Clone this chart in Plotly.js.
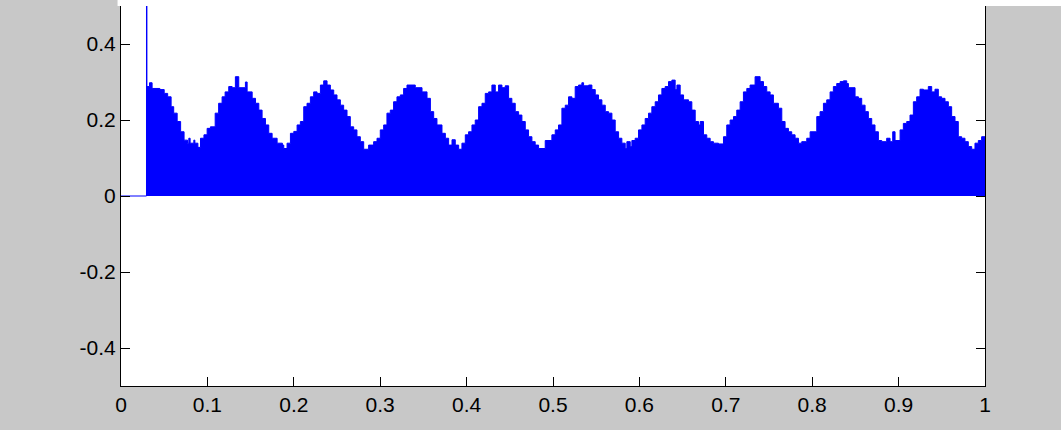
<!DOCTYPE html>
<html>
<head>
<meta charset="utf-8">
<script src="https://cdn.plot.ly/plotly-3.0.1.min.js"></script>
<style>
  html, body { margin: 0; padding: 0; background: #c8c8c8; }
  #plot { width: 1061px; height: 430px; }
</style>
</head>
<body>
<div id="plot"></div>
<script>
// Time axis (s): start of each held level of the sampled current envelope
const time = [
  0, 0.0295, 0.0295, 0.030, 0.033, 0.036, 0.045, 0.050, 0.054, 0.058,
  0.061, 0.065, 0.069, 0.073, 0.077, 0.0785, 0.080, 0.0843, 0.0855, 0.089,
  0.092, 0.096, 0.0997, 0.1035, 0.109, 0.113, 0.117, 0.1205, 0.1247, 0.1286,
  0.1324, 0.1363, 0.144, 0.146, 0.1518, 0.1557, 0.1595, 0.1633, 0.1672, 0.171,
  0.1749, 0.1807, 0.1868, 0.1884, 0.1922, 0.1961, 0.200, 0.2038, 0.2076, 0.2115,
  0.2153, 0.2192, 0.223, 0.2269, 0.2308, 0.2346, 0.2385, 0.2423, 0.2462, 0.250,
  0.2539, 0.2577, 0.2616, 0.2654, 0.2693, 0.2731, 0.277, 0.2809, 0.2866, 0.2924,
  0.2963, 0.3001, 0.304, 0.3078, 0.3117, 0.3155, 0.3194, 0.3233, 0.3271, 0.331,
  0.3406, 0.3484, 0.3542, 0.3581, 0.3619, 0.3657, 0.3715, 0.3754, 0.3792, 0.3831,
  0.3869, 0.3908, 0.3946, 0.3985, 0.4023, 0.4062, 0.410, 0.4139, 0.4178, 0.4216,
  0.4255, 0.4293, 0.4332, 0.437, 0.4409, 0.4447, 0.4486, 0.4524, 0.4563, 0.4602,
  0.464, 0.4679, 0.4717, 0.4756, 0.4794, 0.4833, 0.491, 0.4987, 0.5026, 0.5064,
  0.5103, 0.5142, 0.518, 0.5219, 0.5257, 0.5296, 0.5334, 0.5354, 0.5412, 0.545,
  0.5489, 0.5527, 0.5566, 0.5605, 0.5643, 0.5682, 0.572, 0.5759, 0.5797, 0.5836,
  0.5855, 0.5894, 0.5913, 0.5951, 0.599, 0.6029, 0.6067, 0.6106, 0.6144, 0.6183,
  0.6221, 0.626, 0.6298, 0.6337, 0.6376, 0.6414, 0.6434, 0.6472, 0.6511, 0.6569,
  0.6607, 0.6646, 0.6684, 0.6703, 0.6742, 0.678, 0.6819, 0.6857, 0.6915, 0.6973,
  0.7011, 0.705, 0.7089, 0.7127, 0.7166, 0.7204, 0.7243, 0.7281, 0.7339, 0.7397,
  0.7436, 0.7474, 0.7513, 0.7551, 0.7609, 0.7648, 0.7686, 0.7725, 0.7763, 0.7802,
  0.7841, 0.7879, 0.7937, 0.7976, 0.8053, 0.8091, 0.813, 0.8168, 0.8207, 0.8245,
  0.8284, 0.8323, 0.8361, 0.840, 0.8419, 0.8496, 0.8535, 0.8573, 0.8612, 0.865,
  0.8689, 0.8727, 0.8766, 0.8805, 0.8862, 0.8901, 0.8932, 0.8959, 0.9017, 0.9055,
  0.9094, 0.9132, 0.9171, 0.9209, 0.9248, 0.9287, 0.9344, 0.9383, 0.9421, 0.946,
  0.9498, 0.9537, 0.9576, 0.9614, 0.9653, 0.9691, 0.973, 0.9768, 0.9807, 0.9846,
  0.9884, 0.9923, 0.9961, 1.0
];

// Current envelope (A) held from each time above; the switch-on transient is the tall spike
const current = [
  0, 0, 0.62, 0.288, 0.298, 0.283, 0.280, 0.270, 0.261, 0.235,
  0.218, 0.196, 0.169, 0.147, 0.139, 0.152, 0.139, 0.147, 0.139, 0.128,
  0.152, 0.161, 0.178, 0.182, 0.218, 0.244, 0.261, 0.274, 0.288, 0.285,
  0.314, 0.285, 0.300, 0.274, 0.257, 0.244, 0.226, 0.204, 0.187, 0.165,
  0.152, 0.139, 0.134, 0.125, 0.139, 0.165, 0.170, 0.187, 0.196, 0.235,
  0.244, 0.261, 0.274, 0.270, 0.292, 0.303, 0.292, 0.279, 0.266, 0.253,
  0.239, 0.226, 0.209, 0.182, 0.174, 0.156, 0.143, 0.123, 0.134, 0.143,
  0.152, 0.174, 0.187, 0.218, 0.226, 0.248, 0.261, 0.266, 0.283, 0.292,
  0.285, 0.274, 0.257, 0.222, 0.204, 0.187, 0.165, 0.152, 0.134, 0.148,
  0.134, 0.123, 0.139, 0.161, 0.169, 0.187, 0.200, 0.235, 0.244, 0.270,
  0.274, 0.292, 0.274, 0.292, 0.285, 0.290, 0.257, 0.244, 0.222, 0.213,
  0.196, 0.174, 0.156, 0.143, 0.134, 0.125, 0.146, 0.161, 0.174, 0.187,
  0.231, 0.239, 0.261, 0.257, 0.288, 0.292, 0.298, 0.290, 0.292, 0.280,
  0.266, 0.253, 0.239, 0.222, 0.218, 0.200, 0.169, 0.152, 0.139, 0.125,
  0.143, 0.130, 0.146, 0.152, 0.174, 0.187, 0.204, 0.218, 0.235, 0.248,
  0.266, 0.283, 0.288, 0.301, 0.305, 0.280, 0.292, 0.266, 0.253, 0.248,
  0.226, 0.196, 0.187, 0.196, 0.161, 0.152, 0.143, 0.139, 0.137, 0.156,
  0.187, 0.200, 0.209, 0.226, 0.248, 0.274, 0.283, 0.292, 0.314, 0.301,
  0.288, 0.274, 0.266, 0.244, 0.231, 0.196, 0.178, 0.169, 0.161, 0.152,
  0.139, 0.143, 0.152, 0.169, 0.209, 0.222, 0.244, 0.253, 0.274, 0.288,
  0.296, 0.301, 0.303, 0.296, 0.285, 0.261, 0.257, 0.239, 0.222, 0.204,
  0.187, 0.169, 0.146, 0.143, 0.152, 0.143, 0.169, 0.146, 0.174, 0.191,
  0.196, 0.213, 0.248, 0.261, 0.281, 0.279, 0.288, 0.274, 0.281, 0.261,
  0.257, 0.248, 0.235, 0.209, 0.196, 0.156, 0.152, 0.143, 0.130, 0.123,
  0.139, 0.146, 0.156, 0.156
];

// Axis ticks
const xTicks = [0, 0.1, 0.2, 0.3, 0.4, 0.5, 0.6, 0.7, 0.8, 0.9, 1];
const xTickText = ['0', '0.1', '0.2', '0.3', '0.4', '0.5', '0.6', '0.7', '0.8', '0.9', '1'];
const yTicks = [-0.4, -0.2, 0, 0.2, 0.4];
const yTickText = ['-0.4', '-0.2', '0', '0.2', '0.4'];

const trace = {
  type: 'scatter',
  mode: 'lines',
  x: time,
  y: current,
  line: { color: '#0000ff', width: 1, shape: 'hv' },
  fill: 'tozeroy',
  fillcolor: '#0000ff',
  hoverinfo: 'x+y'
};

const axisCommon = {
  showgrid: false,
  zeroline: false,
  showline: true,
  linecolor: '#000000',
  linewidth: 1,
  ticks: 'inside',
  ticklen: 9,
  tickwidth: 1,
  tickcolor: '#000000',
  tickfont: { family: 'Liberation Sans, Arial, sans-serif', size: 21, color: '#000000' }
};

const layout = {
  width: 1061,
  height: 430,
  margin: { l: 121, r: 76, t: 6, b: 44, pad: 0 },
  paper_bgcolor: '#c8c8c8',
  plot_bgcolor: '#ffffff',
  showlegend: false,
  xaxis: Object.assign({}, axisCommon, {
    range: [0, 1],
    mirror: false,
    tickvals: xTicks,
    ticktext: xTickText
  }),
  yaxis: Object.assign({}, axisCommon, {
    range: [-0.5, 0.5],
    mirror: 'ticks',
    tickvals: yTicks,
    ticktext: yTickText
  }),
  // white band along the top edge of the figure, above the axes box
  shapes: [{
    type: 'rect',
    xref: 'paper', yref: 'paper',
    x0: -0.004, x1: 1.09,
    y0: 1, y1: 1.02,
    fillcolor: '#ffffff',
    line: { width: 0 },
    layer: 'above'
  }]
};

Plotly.newPlot('plot', [trace], layout, { displayModeBar: false, staticPlot: true });
</script>
</body>
</html>
